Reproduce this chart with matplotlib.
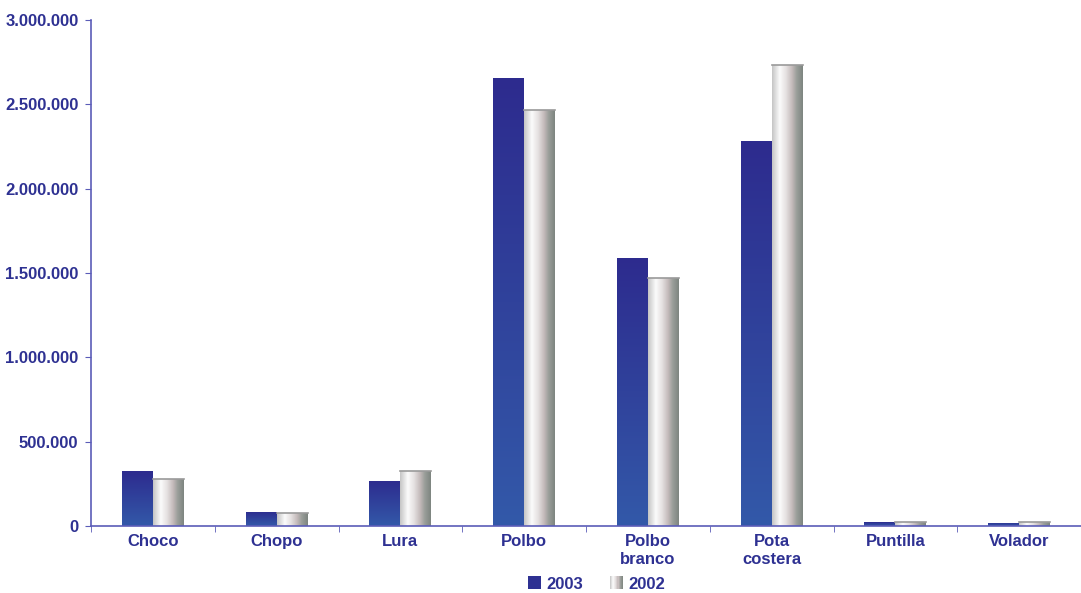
import numpy as np
import matplotlib.pyplot as plt
from matplotlib.patches import Rectangle
from matplotlib.legend_handler import HandlerBase
from matplotlib.colors import LinearSegmentedColormap
from matplotlib.ticker import FuncFormatter

plt.rcParams['font.family'] = ['Liberation Sans', 'DejaVu Sans']

especies = ['Choco', 'Chopo', 'Lura', 'Polbo', 'Polbo\nbranco', 'Pota\ncostera', 'Puntilla', 'Volador']
v2003 = [326000, 85000, 267000, 2656000, 1589000, 2283000, 22000, 20000]
v2002 = [279000, 77000, 326000, 2466000, 1472000, 2733000, 22000, 22000]

txt = '#2e3192'
axc = '#5b5cb8'

# gradientes
azul = LinearSegmentedColormap.from_list('azul', ['#2d2b8e', '#3359a9'])
gris = LinearSegmentedColormap.from_list('gris', [(0, '#c4c4c4'), (0.25, '#fbfbfb'), (0.45, '#e6e2e2'),
                                                 (0.65, '#c4baba'), (0.8, '#9a9e9a'), (1, '#7d857f')])

fig = plt.figure(figsize=(10.81, 5.93), dpi=100)
ax = fig.add_axes([91/1081, 1-526/593, 1-91/1081, 506/593])

x = np.arange(len(especies))
w = 0.25
b1 = ax.bar(x - w/2, v2003, w, color='none', zorder=2)
b2 = ax.bar(x + w/2, v2002, w, color='none', zorder=2)

vgrad = np.linspace(0, 1, 256).reshape(-1, 1)
hgrad = np.linspace(0, 1, 256).reshape(1, -1)
for r in b1:
    x0 = r.get_x()
    im = ax.imshow(vgrad, cmap=azul, aspect='auto', extent=[x0, x0 + r.get_width(), 0, r.get_height()],
                   vmin=0, vmax=1, zorder=2)
    im.set_clip_path(r)
for r in b2:
    x0 = r.get_x()
    im = ax.imshow(hgrad, cmap=gris, aspect='auto', extent=[x0, x0 + r.get_width(), 0, r.get_height()],
                   vmin=0, vmax=1, zorder=2)
    im.set_clip_path(r)
    ax.plot([x0, x0 + r.get_width()], [r.get_height()]*2, color='#9a9a9a', lw=1.2, zorder=3)

ax.set_xlim(-0.5, len(especies) - 0.5)
ax.set_ylim(0, 3000000)
ax.set_yticks(np.arange(0, 3000001, 500000))
ax.yaxis.set_major_formatter(FuncFormatter(lambda v, p: f'{int(v):,}'.replace(',', '.')))
ax.set_xticks(x)
ax.set_xticklabels(especies)
ax.set_xticks(np.arange(-0.5, len(especies)), minor=True)
ax.tick_params(axis='x', which='major', length=0, pad=6)
ax.tick_params(axis='x', which='minor', length=4, color=axc)
ax.tick_params(axis='y', length=4, color=axc, pad=5)
for lab in ax.get_xticklabels() + ax.get_yticklabels():
    lab.set_fontweight('bold')
    lab.set_fontsize(12)
    lab.set_color(txt)
for s in ['top', 'right']:
    ax.spines[s].set_visible(False)
for s in ['left', 'bottom']:
    ax.spines[s].set_color(axc)
    ax.spines[s].set_linewidth(1.2)


class GradHandler(HandlerBase):
    def __init__(self, cmap, **kw):
        super().__init__(**kw)
        self.cmap = cmap

    def create_artists(self, legend, orig, xd, yd, width, height, fontsize, trans):
        n = 12
        sw = height / n
        arts = []
        for i in range(n):
            arts.append(Rectangle((xd + i*sw, yd), sw*1.05, height, facecolor=self.cmap((i + 0.5)/n),
                                  edgecolor='none', transform=trans))
        return arts


class SolidHandler(HandlerBase):
    def create_artists(self, legend, orig, xd, yd, width, height, fontsize, trans):
        return [Rectangle((xd, yd), height, height, facecolor='#2e3192', edgecolor='none', transform=trans)]


h1 = Rectangle((0, 0), 1, 1)
h2 = Rectangle((0, 0), 1, 1)
leg = fig.legend([h1, h2], ['2003', '2002'], loc='center', bbox_to_anchor=(0.552, 0.014),
                 ncol=2, frameon=False, handlelength=0.8, handleheight=0.8, handletextpad=0.3,
                 columnspacing=1.6, borderpad=0.1, prop={'weight': 'bold', 'size': 12},
                 handler_map={h1: SolidHandler(), h2: GradHandler(gris)})
for t in leg.get_texts():
    t.set_color(txt)

fig.savefig('out.png', dpi=100)
